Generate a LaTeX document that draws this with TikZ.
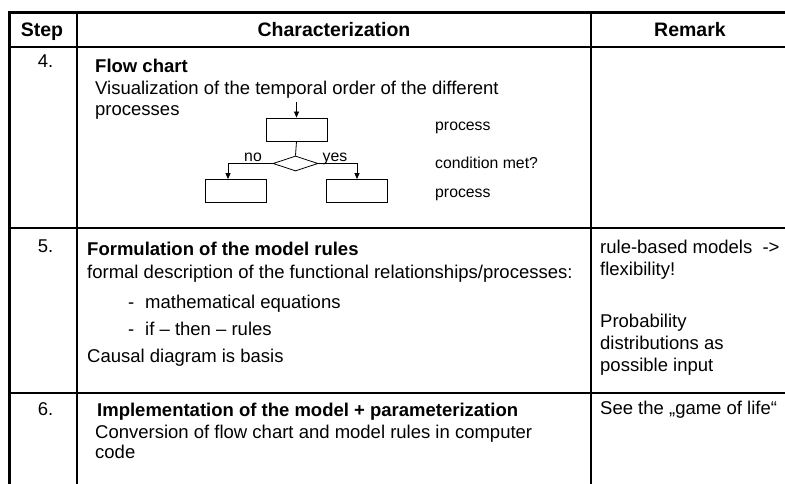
\documentclass[tikz,border=0pt]{standalone}
\usepackage{fontspec}
\setmainfont{Liberation Sans}
\usetikzlibrary{arrows.meta,shapes.geometric}
\begin{document}
\begin{tikzpicture}[x=1pt,y=-1pt,
  body/.style={anchor=west,inner sep=0pt,text height=13.3pt,text depth=0pt,font=\fontsize{18.5}{22}\selectfont},
  bodyb/.style={body,font=\fontsize{18.5}{22}\selectfont\bfseries},
  num/.style={anchor=center,inner sep=0pt,text height=13.3pt,text depth=0pt,font=\fontsize{18.5}{22}\selectfont},
  head/.style={anchor=center,inner sep=0pt,text height=14pt,text depth=0pt,font=\fontsize{19.5}{23}\selectfont\bfseries},
  small/.style={anchor=base west,inner sep=0pt,font=\fontsize{15.8}{19}\selectfont},
  smallc/.style={anchor=base,inner sep=0pt,font=\fontsize{15.8}{19}\selectfont},
  fbox/.style={draw,line width=0.8pt,minimum width=61pt,minimum height=23pt,inner sep=0pt},
  fdia/.style={draw,diamond,line width=0.8pt,minimum width=45pt,minimum height=15pt,inner sep=0pt},
  fline/.style={line width=0.8pt},
  farr/.style={line width=0.8pt,-{Triangle[length=6pt,width=5pt]}},
  border/.style={line width=3pt},
  rowline/.style={line width=1.8pt},
  colline/.style={line width=1.3pt}]
\useasboundingbox (0,0) rectangle (785,484);
\begin{scope}
\clip (0,0) rectangle (785,484);
% table rules
\draw[colline] (77,13) -- (77,490);
\draw[colline] (591,13) -- (591,490);
\draw[line width=1.5pt] (9,47) -- (790,47);
\draw[rowline] (9,228) -- (790,228);
\draw[rowline] (9,393) -- (790,393);
\draw[border] (9,490) -- (9,13) -- (790,13);
\end{scope}
% header
\node[head] (hstep) at (42,30) {Step};
\node[head] (hchar) at (334,30) {Characterization};
\node[head] (hrem) at (690,30) {Remark};
% row 4
\node[num] (n4) at (45.5,61) {4.};
\node[bodyb] (t4a) at (95,66) {Flow chart};
\node[body] (t4b) at (95,87.5) {Visualization of the temporal order of the different};
\node[body] (t4c) at (95,109) {processes};
% flow chart
\coordinate (fin) at (296.5,102);
\node[fbox] (p1) at (296.5,129.5) {};
\node[fdia] (d) at (295.5,163.5) {};
\node[fbox] (p2) at (236,191) {};
\node[fbox] (p3) at (357,191) {};
\draw[farr] (fin) -- (p1.north);
\draw[fline] (p1.south) -- (d.north);
\draw[farr] (d.west) -| ([xshift=-8pt]p2.north);
\draw[farr] (d.east) -| (p3.north);
\node[smallc] (lno) at (253,162) {no};
\node[smallc] (lyes) at (335,162) {yes};
\node[small] (l1) at (435,131) {process};
\node[small] (l2) at (435,168) {condition met?};
\node[small] (l3) at (435,197) {process};
% row 5
\node[num] (n5) at (45.5,246) {5.};
\node[bodyb] (t5a) at (87,249) {Formulation of the model rules};
\node[body] (t5b) at (87,272) {formal description of the functional relationships/processes:};
\node[body] (t5c) at (128,302) {-};
\node[body] (t5d) at (145,302) {mathematical equations};
\node[body] (t5e) at (128,329) {-};
\node[body] (t5f) at (145,329) {if – then – rules};
\node[body] (t5g) at (87,356) {Causal diagram is basis};
\node[body] (r5a) at (600,247) {rule-based models\hspace{0.55em}->};
\node[body] (r5b) at (600,269) {flexibility!};
\node[body] (r5c) at (600,321) {Probability};
\node[body] (r5d) at (600,343) {distributions as};
\node[body] (r5e) at (600,365) {possible input};
% row 6
\node[num] (n6) at (45.5,409) {6.};
\node[bodyb] (t6a) at (97,410) {Implementation of the model + parameterization};
\node[body] (t6b) at (95,432) {Conversion of flow chart and model rules in computer};
\node[body] (t6c) at (95,452) {code};
\node[body] (r6a) at (600,408) {See the „game of life“};
\end{tikzpicture}
\end{document}
